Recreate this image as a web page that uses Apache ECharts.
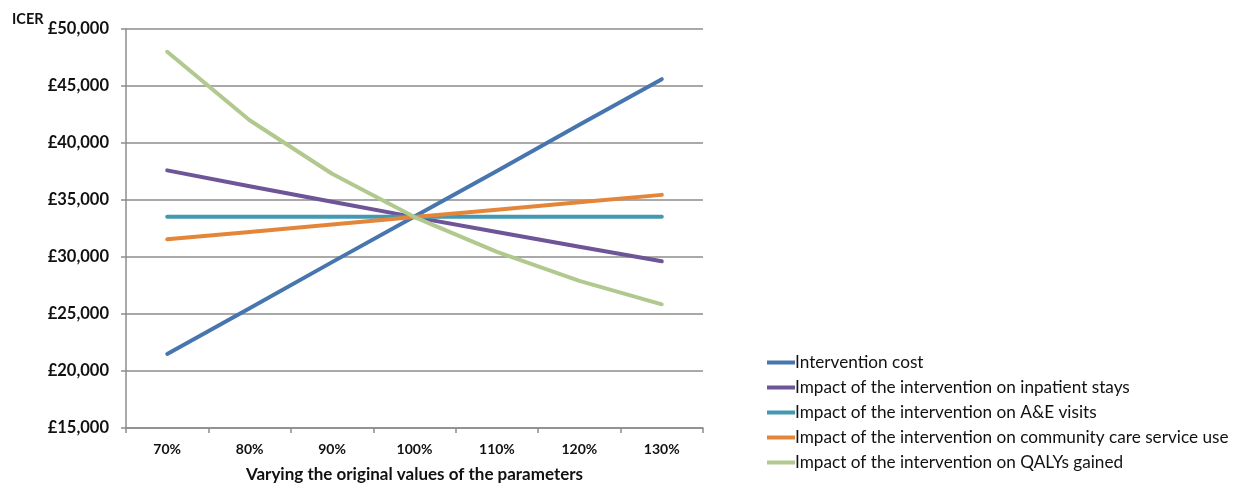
<!DOCTYPE html>
<html>
<head>
<meta charset="utf-8">
<script src="https://cdn.jsdelivr.net/npm/echarts@6/dist/echarts.min.js"></script>
<style>
  html, body { margin: 0; padding: 0; background: #ffffff; }
  #chart { width: 1243px; height: 485px; }
</style>
</head>
<body>
<div id="chart"></div>
<script>
// Sensitivity of the ICER to each parameter, varied from 70% to 130%
const categories = ['70%', '80%', '90%', '100%', '110%', '120%', '130%'];

const interventionCost = [21500, 25500, 29550, 33550, 37550, 41600, 45600];
const inpatientStays   = [37600, 36200, 34850, 33500, 32200, 30900, 29620];
const aeVisits         = [33530, 33530, 33530, 33530, 33530, 33530, 33530];
const communityCare    = [31550, 32200, 32850, 33500, 34150, 34800, 35450];
const qalysGained      = [48000, 42000, 37300, 33500, 30450, 27900, 25850];

const seriesNames = [
  'Intervention cost',
  'Impact of the intervention on inpatient stays',
  'Impact of the intervention on A&E visits',
  'Impact of the intervention on community care service use',
  'Impact of the intervention on QALYs gained'
];
const seriesData = [interventionCost, inpatientStays, aeVisits, communityCare, qalysGained];
const colors = ['#4775ae', '#6e5597', '#4399b1', '#e3863a', '#b1c98e'];

const yTicks = { min: 15000, max: 50000, step: 5000 };

const chart = echarts.init(document.getElementById('chart'), null, { renderer: 'canvas' });

chart.setOption({
  animation: false,
  backgroundColor: '#ffffff',
  textStyle: { fontFamily: 'Lato, "Open Sans", sans-serif' },
  title: {
    text: 'ICER',
    left: 7,
    top: 7,
    textStyle: { fontSize: 14.5, fontWeight: 'bold', color: '#111', fontFamily: 'Lato, sans-serif' }
  },
  grid: { left: 126, right: 540, top: 29, bottom: 57, containLabel: false, outerBoundsMode: 'none' },
  legend: {
    orient: 'vertical',
    left: 762,
    top: 348,
    itemWidth: 28,
    itemHeight: 4,
    itemGap: 6,
    icon: 'rect',
    data: seriesNames,
    textStyle: { fontSize: 17.2, color: '#111', padding: [0, 0, 0, -5], lineHeight: 19 }
  },
  xAxis: {
    type: 'category',
    data: categories,
    boundaryGap: true,
    name: 'Varying the original values of the parameters',
    nameLocation: 'middle',
    nameGap: 38,
    nameTextStyle: { fontSize: 17, fontWeight: 'bold', color: '#111' },
    axisLine: { lineStyle: { color: '#8c8c8c', width: 1.5 } },
    axisTick: { show: true, length: 5, lineStyle: { color: '#8c8c8c', width: 1.5 } },
    axisLabel: { margin: 14, fontSize: 14, fontWeight: 'bold', color: '#111' },
    splitLine: { show: false }
  },
  yAxis: {
    type: 'value',
    min: yTicks.min,
    max: yTicks.max,
    interval: yTicks.step,
    axisLine: { show: true, lineStyle: { color: '#8c8c8c', width: 1.5 } },
    axisTick: { show: true, length: 5, lineStyle: { color: '#8c8c8c', width: 1.5 } },
    axisLabel: {
      margin: 17,
      fontSize: 16.5,
      fontWeight: 'bold',
      color: '#111',
      formatter: v => '£' + v.toLocaleString('en-GB')
    },
    splitLine: { show: true, lineStyle: { color: '#8c8c8c', width: 1.5 } }
  },
  series: seriesNames.map((name, i) => ({
    name,
    type: 'line',
    data: seriesData[i],
    color: colors[i],
    symbol: 'none',
    smooth: false,
    lineStyle: { width: 4, color: colors[i], cap: 'round', join: 'round' }
  }))
});
</script>
</body>
</html>
